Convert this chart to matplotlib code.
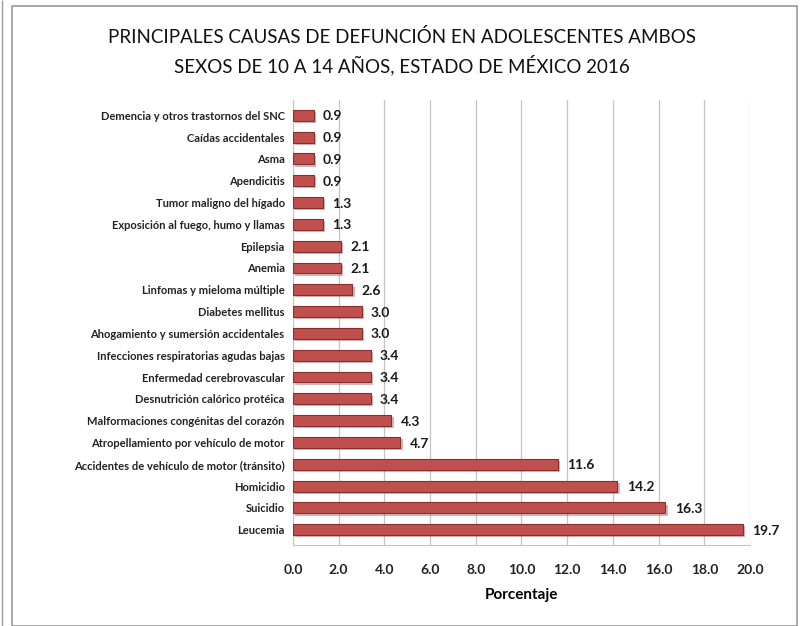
import matplotlib
matplotlib.use("Agg")
import matplotlib.pyplot as plt
from matplotlib.patches import Rectangle

categories = [
    "Demencia y otros trastornos del SNC",
    "Caídas accidentales",
    "Asma",
    "Apendicitis",
    "Tumor maligno del hígado",
    "Exposición al fuego, humo y llamas",
    "Epilepsia",
    "Anemia",
    "Linfomas y mieloma múltiple",
    "Diabetes mellitus",
    "Ahogamiento y sumersión accidentales",
    "Infecciones respiratorias agudas bajas",
    "Enfermedad cerebrovascular",
    "Desnutrición calórico protéica",
    "Malformaciones congénitas del corazón",
    "Atropellamiento por vehículo de motor",
    "Accidentes de vehículo de motor (tránsito)",
    "Homicidio",
    "Suicidio",
    "Leucemia",
]
values = [0.9, 0.9, 0.9, 0.9, 1.3, 1.3, 2.1, 2.1, 2.6, 3.0, 3.0,
          3.4, 3.4, 3.4, 4.3, 4.7, 11.6, 14.2, 16.3, 19.7]
xticks = [0, 2, 4, 6, 8, 10, 12, 14, 16, 18, 20]

plt.rcParams['font.family'] = ['Lato', 'DejaVu Sans']

fig = plt.figure(figsize=(8.04, 6.26), dpi=100)
# outer frame
fig.patches.append(Rectangle((12/804, 0.0), (797-12)/804, 1-6/626, transform=fig.transFigure,
                             fill=False, edgecolor='#9a9a9a', linewidth=1.2))
fig.patches.append(Rectangle((2/804, 0.0), 0, 1, transform=fig.transFigure,
                             fill=False, edgecolor='#9a9a9a', linewidth=1.0))

ax = fig.add_axes([293/804, 1-545/626, (750-293)/804, (545-100)/626])

n = len(categories)
ypos = list(range(n))
ax.set_ylim(n - 0.3, -0.7)
ax.set_xlim(0, 20)

# shadow / depth
ax.barh([y + 0.1 for y in ypos], values, height=0.5, left=0.1,
        color='#8c2f2c', alpha=0.35, zorder=2)
ax.barh(ypos, values, height=0.5, color='#C0504D', edgecolor='#8B2E2B',
        linewidth=0.8, zorder=3)

for y, v in zip(ypos, values):
    ax.text(v + 0.4, y + 0.05, f"{v:.1f}", va='center', ha='left',
            fontsize=10, fontweight='bold', color='#1a1a1a', zorder=4)

ax.set_yticks(ypos)
ax.set_yticklabels(categories, fontsize=8, fontweight='bold', color='#222222')
ax.set_xticks(xticks)
ax.set_xticklabels([f"{t:.1f}" for t in xticks], fontsize=10, fontweight='bold',
                   color='#222222')
ax.tick_params(axis='both', length=0, pad=6)
ax.tick_params(axis='x', pad=14)
ax.grid(axis='x', color='#c4c4c4', linewidth=0.9, zorder=0)
ax.set_axisbelow(True)
for s in ['top', 'right']:
    ax.spines[s].set_visible(False)
ax.spines['left'].set_color('#c4c4c4')
ax.spines['bottom'].set_color('#c4c4c4')
ax.set_xlabel("Porcentaje", fontsize=11, fontweight='bold', labelpad=8)

fig.text(0.5, 1-37/626, "PRINCIPALES CAUSAS DE DEFUNCIÓN EN ADOLESCENTES AMBOS",
         ha='center', va='center', fontsize=13.5, color='#111111')
fig.text(0.5, 1-65/626, "SEXOS DE 10 A 14 AÑOS, ESTADO DE MÉXICO 2016",
         ha='center', va='center', fontsize=13.5, color='#111111')

fig.savefig("out.png", dpi=100)
